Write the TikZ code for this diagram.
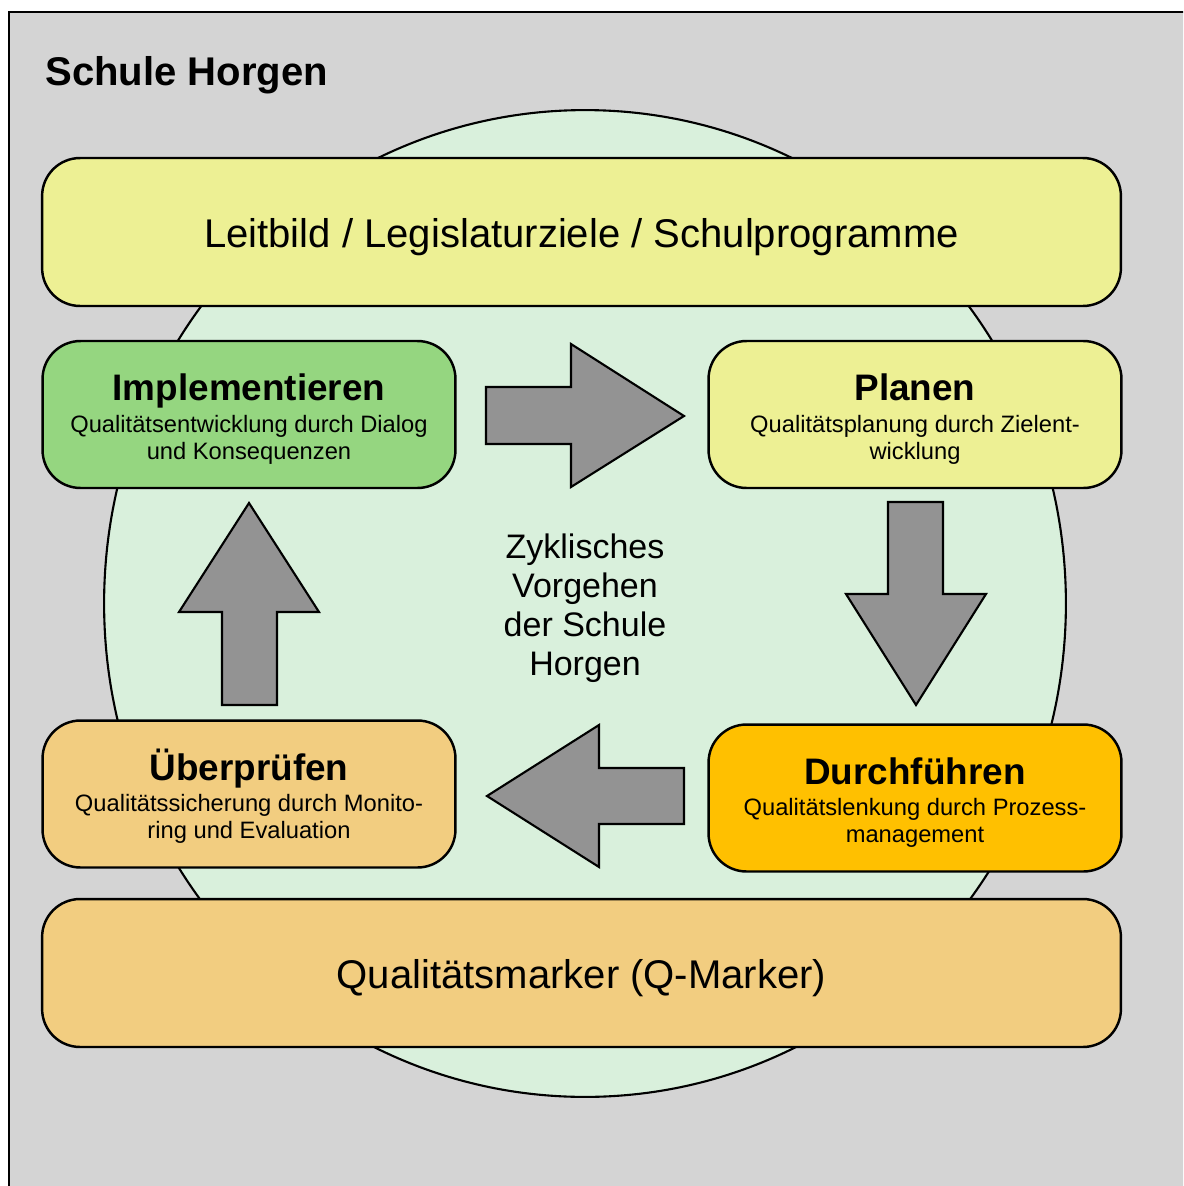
\documentclass[tikz,border=0pt]{standalone}
\usepackage{fontspec}
\setmainfont{Liberation Sans}
\usepackage{xcolor}
\usepackage{tikz}
\usetikzlibrary{positioning}
\usetikzlibrary{shapes.geometric}
\definecolor{bggray}{RGB}{212,212,212}
\definecolor{cyclegreen}{RGB}{217,240,220}
\definecolor{leityellow}{RGB}{237,240,148}
\definecolor{implgreen}{RGB}{149,214,128}
\definecolor{checktan}{RGB}{242,205,128}
\definecolor{doorange}{RGB}{255,192,0}
\definecolor{arrowgray}{RGB}{147,147,147}
\tikzset{
    frame/.style = {draw, line width=1.2pt, fill=bggray},
    heading/.style = {inner sep=0pt, font=\fontsize{22.8}{26}\selectfont\bfseries},
    cycle/.style = {ellipse, draw, line width=1.2pt, fill=cyclegreen, inner sep=0pt,
        minimum width=19.24cm, minimum height=19.74cm},
    cycletext/.style = {inner sep=0pt, align=center, font=\fontsize{19.35}{22.2}\selectfont},
    band/.style = {draw, line width=1.4pt, rounded corners=0.76cm, inner sep=0pt,
        minimum width=21.58cm, minimum height=2.96cm, text height=18pt, text depth=0.5pt,
        font=\fontsize{22.8}{26}\selectfont},
    phase/.style = {draw, line width=1.4pt, rounded corners=0.76cm, inner sep=0pt,
        minimum width=8.26cm, minimum height=2.94cm, align=center,
        font=\fontsize{13.5}{15.5}\selectfont},
    blockarrow/.style = {draw, line width=1.2pt, fill=arrowgray}
}
\newcommand{\phasetitle}[1]{{\fontsize{21}{24}\selectfont\bfseries\rule{0pt}{20.5pt}#1}}

\begin{document}
\begin{tikzpicture}[x=0.02cm, y=-0.02cm]
    \useasboundingbox (0,0) rectangle (1183,1186);
    \clip (0,0) rectangle (1183,1186);
    \draw[frame] (9,12) rectangle (1210,1210);
    \node[heading, anchor=base west] (schule) at (45,85.5) {Schule Horgen};

    % cycle in the middle
    \node[cycle] (cycle) at (585,603.5) {};
    \node[cycletext] (zyklus) at ([yshift=-0.1cm]cycle.center) {Zyklisches\\Vorgehen\\der Schule\\Horgen};

    % bands on top and bottom
    \node[band, fill=leityellow] (leitbild) at (581.5,232) {Leitbild / Legislaturziele / Schulprogramme};
    \node[band, fill=checktan] (qmarker) at (581.5,973) {Qualitätsmarker (Q-Marker)};

    % the four phases
    \node[phase, fill=implgreen] (impl) at (249,414.5)
        {\phasetitle{Implementieren}\\[2.5pt]Qualitätsentwicklung durch Dialog\\und Konsequenzen};
    \node[phase, fill=leityellow] (plan) at (915,414.5)
        {\phasetitle{Planen}\\[2.5pt]Qualitätsplanung durch Zielent-\\wicklung};
    \node[phase, fill=doorange] (durch) at (915,798)
        {\phasetitle{Durchführen}\\[2.5pt]Qualitätslenkung durch Prozess-\\management};
    \node[phase, fill=checktan] (check) at (249,794)
        {\phasetitle{Überprüfen}\\[2.5pt]Qualitätssicherung durch Monito-\\ring und Evaluation};

    % block arrows
    \draw[blockarrow] (486,387) -- (571,387) -- (571,344) -- (684,416)
        -- (571,487) -- (571,444) -- (486,444) -- cycle;
    \draw[blockarrow] (888,502) -- (943,502) -- (943,594) -- (986,594)
        -- (916,705) -- (846,594) -- (888,594) -- cycle;
    \draw[blockarrow] (684,768) -- (599,768) -- (599,725) -- (487,796)
        -- (599,867) -- (599,824) -- (684,824) -- cycle;
    \draw[blockarrow] (222,705) -- (222,612) -- (179,612) -- (249,503)
        -- (319,612) -- (277,612) -- (277,705) -- cycle;
\end{tikzpicture}
\end{document}
